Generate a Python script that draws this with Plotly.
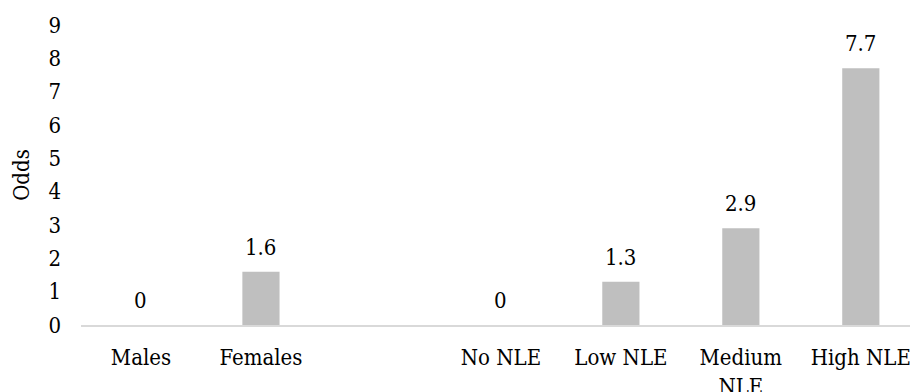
import plotly.graph_objects as go

# Odds by group; a blank spacer slot separates sex from NLE level
categories = ["Males", "Females", " ", "No NLE", "Low NLE", "Medium<br>NLE", "High NLE"]
odds = [0, 1.6, None, 0, 1.3, 2.9, 7.7]
label_text = ["0", "1.6", "", "0", "1.3", "2.9", "7.7"]
y_ticks = list(range(0, 10))

FONT = "DejaVu Serif Condensed, DejaVu Serif, serif"
FONT_SIZE = 22
BAR_COLOR = "#bfbfbf"
AXIS_COLOR = "#d9d9d9"
TEXT_COLOR = "#000000"

fig = go.Figure()
fig.add_trace(go.Bar(
    x=categories,
    y=odds,
    marker=dict(color=BAR_COLOR, line=dict(width=0)),
    showlegend=False,
    hoverinfo="skip",
))

# value labels above each bar
for cat, val, txt in zip(categories, odds, label_text):
    if val is None:
        continue
    fig.add_annotation(
        x=cat, y=val, text=txt, showarrow=False,
        xref="x", yref="y", yanchor="bottom", yshift=10,
        font=dict(family=FONT, size=FONT_SIZE, color=TEXT_COLOR),
    )

fig.update_layout(
    width=910, height=392,
    margin=dict(l=81, r=0, t=25, b=67),
    paper_bgcolor="white", plot_bgcolor="white",
    bargap=0.69,
    font=dict(family=FONT, size=FONT_SIZE, color=TEXT_COLOR),
    xaxis=dict(
        type="category",
        categoryorder="array", categoryarray=categories,
        range=[-0.5, 6.41],
        showline=True, linecolor=AXIS_COLOR, linewidth=2,
        showgrid=False, zeroline=False, ticks="",
        ticklabelstandoff=12,
        tickfont=dict(family=FONT, size=FONT_SIZE, color=TEXT_COLOR),
        automargin=False,
        fixedrange=True,
    ),
    yaxis=dict(
        range=[0, 9],
        tickvals=y_ticks, ticktext=[str(v) for v in y_ticks],
        showline=False, showgrid=False, zeroline=False, ticks="",
        ticklabelstandoff=19,
        tickfont=dict(family=FONT, size=FONT_SIZE, color=TEXT_COLOR),
        title=dict(text="Odds", standoff=12,
                   font=dict(family=FONT, size=FONT_SIZE, color=TEXT_COLOR)),
        automargin=False,
        fixedrange=True,
    ),
)

fig.write_html("out.html")
